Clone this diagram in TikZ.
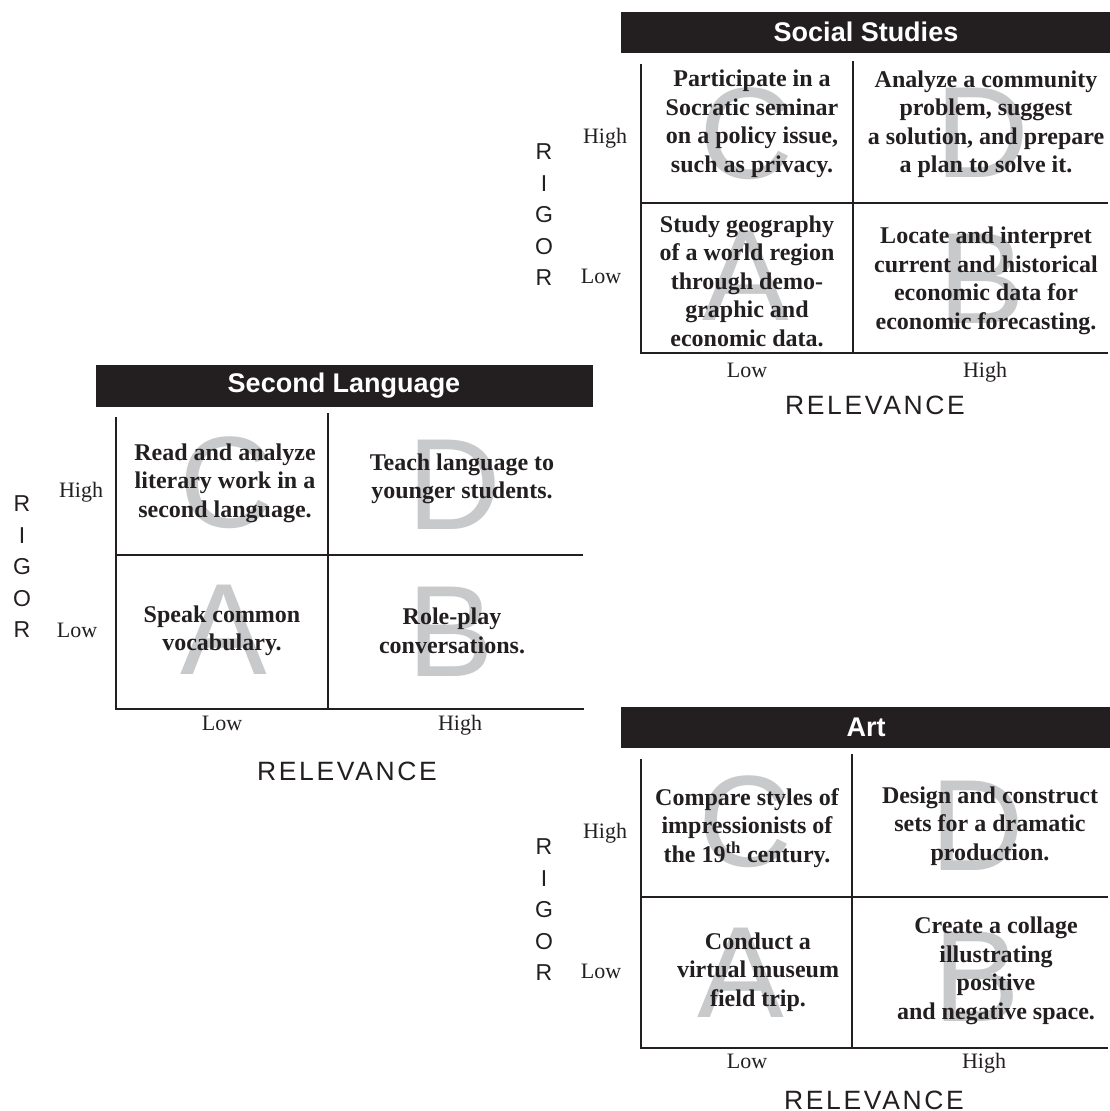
\documentclass[tikz,border=0pt]{standalone}
\usepackage{fontspec}
\setmainfont{Liberation Serif}
\setsansfont{Liberation Sans}
\definecolor{inkblack}{RGB}{35,31,32}
\definecolor{lettergray}{RGB}{200,201,203}
\begin{document}
\begin{tikzpicture}[x=1pt,y=-1pt,
  every node/.style={inner sep=0pt,text=inkblack},
  titlebar/.style={fill=inkblack,text=white,font=\sffamily\bfseries\fontsize{27}{30}\selectfont},
  grid/.style={draw=inkblack,line width=2pt},
  bigletter/.style={text=lettergray,font=\sffamily\fontsize{130}{130}\selectfont},
  celltext/.style={align=center,font=\bfseries\fontsize{24}{28.5}\selectfont},
  levellabel/.style={text height=16pt,text depth=5pt,font=\fontsize{22}{26}\selectfont},
  axislabel/.style={font=\sffamily\fontsize{26.5}{30}\selectfont\addfontfeature{LetterSpace=10}},
  rigorlabel/.style={align=center,font=\sffamily\fontsize{23}{31.5}\selectfont}]
\useasboundingbox (0,0) rectangle (1110,1111);
% Set top right: social studies
\fill[inkblack] (621,12) rectangle (1110,53);
\node(s0)[titlebar] at (866,32) {Social Studies};
\node(sC)[bigletter] at (746,134) {C};
\node(sD)[bigletter] at (982,133) {D};
\node(sA)[bigletter] at (746,276) {A};
\node(sB)[bigletter] at (982,279) {B};
\draw[grid] (641,64) -- (641,353) -- (1108,353);
\draw[grid] (853,61) -- (853,353);
\draw[grid] (641,203) -- (1108,203);
\node(s1)[celltext] at (752,124) {Participate in a\\Socratic seminar\\on a policy issue,\\such as privacy.};
\node(s2)[celltext] at (986,124) {Analyze a community\\problem, suggest\\a solution, and prepare\\a plan to solve it.};
\node(s3)[celltext] at (747,281) {Study geography\\of a world region\\through demo-\\graphic and\\economic data.};
\node(s4)[celltext] at (986,281) {Locate and interpret\\current and historical\\economic data for\\economic forecasting.};
\node(sR)[rigorlabel] at (544,215) {R\\I\\G\\O\\R};
\node(sH)[levellabel] at (605,138) {High};
\node(sL)[levellabel] at (601,278) {Low};
\node(sx1)[levellabel] at (747,372) {Low};
\node(sx2)[levellabel] at (985,372) {High};
\node(sX)[axislabel] at (875,405) {RELEVANCE};
% Set middle left: second language
\fill[inkblack] (96,365) rectangle (593,407);
\node(l0)[titlebar] at (344,386) {Second Language};
\node(lC)[bigletter] at (226,483) {C};
\node(lD)[bigletter] at (454,485) {D};
\node(lA)[bigletter] at (224,630) {A};
\node(lB)[bigletter] at (451,632) {B};
\draw[grid] (116,417) -- (116,709) -- (584,709);
\draw[grid] (328,413) -- (328,709);
\draw[grid] (116,555) -- (583,555);
\node(l1)[celltext] at (225,483) {Read and analyze\\literary work in a\\second language.};
\node(l2)[celltext] at (462,479) {Teach language to\\younger students.};
\node(l3)[celltext] at (222,631) {Speak common\\vocabulary.};
\node(l4)[celltext] at (452,631) {Role-play\\conversations.};
\node(lR)[rigorlabel] at (22,567) {R\\I\\G\\O\\R};
\node(lH)[levellabel] at (81,492) {High};
\node(lL)[levellabel] at (77,632) {Low};
\node(lx1)[levellabel] at (222,725) {Low};
\node(lx2)[levellabel] at (460,725) {High};
\node(lX)[axislabel] at (347,771) {RELEVANCE};
% Set bottom right: art
\fill[inkblack] (621,707) rectangle (1110,748);
\node(a0)[titlebar] at (866,727) {Art};
\node(aC)[bigletter] at (745,822) {C};
\node(aD)[bigletter] at (977,826) {D};
\node(aA)[bigletter] at (741,973) {A};
\node(aB)[bigletter] at (977,977) {B};
\draw[grid] (641,759) -- (641,1048) -- (1108,1048);
\draw[grid] (852,754) -- (852,1048);
\draw[grid] (641,897) -- (1108,897);
\node(a1)[celltext] at (747,828) {Compare styles of\\impressionists of\\the 19\textsuperscript{th} century.};
\node(a2)[celltext] at (990,826) {Design and construct\\sets for a dramatic\\production.};
\node(a3)[celltext] at (758,972) {Conduct a\\virtual museum\\field trip.};
\node(a4)[celltext] at (996,971) {Create a collage\\illustrating\\positive\\and negative space.};
\node(aR)[rigorlabel] at (544,910) {R\\I\\G\\O\\R};
\node(aH)[levellabel] at (605,833) {High};
\node(aL)[levellabel] at (601,973) {Low};
\node(ax1)[levellabel] at (747,1063) {Low};
\node(ax2)[levellabel] at (984,1063) {High};
\node(aX)[axislabel] at (874,1100) {RELEVANCE};
\end{tikzpicture}
\end{document}
